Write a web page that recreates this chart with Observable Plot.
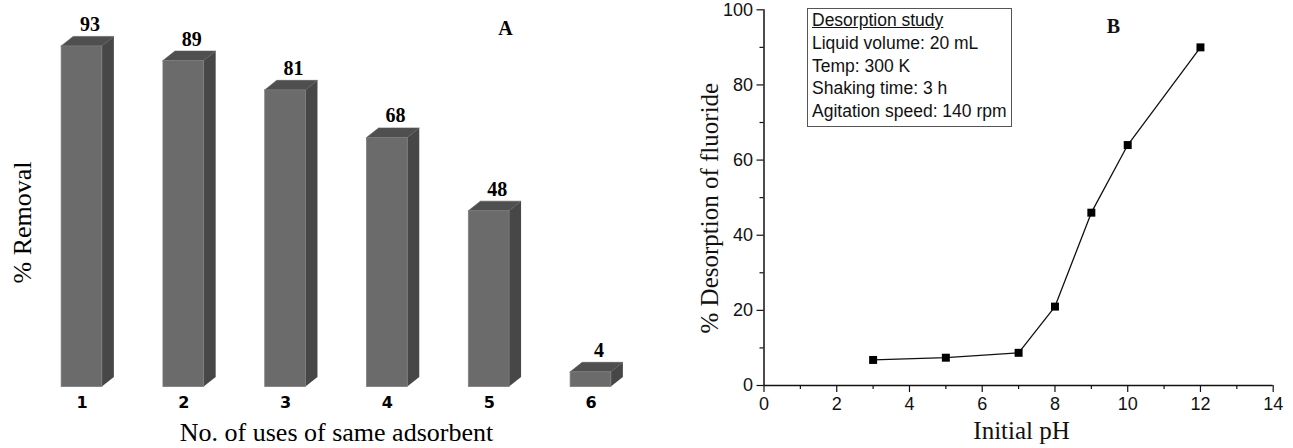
<!DOCTYPE html>
<html>
<head>
<meta charset="utf-8">
<script src="https://cdn.jsdelivr.net/npm/d3@7"></script>
<script src="https://cdn.jsdelivr.net/npm/@observablehq/plot@0.6"></script>
<style>
  html, body { margin: 0; padding: 0; background: #fff; }
  #wrap { position: relative; width: 1293px; height: 448px; overflow: hidden; }
  #panelA { position: absolute; left: 0; top: 0; }
  #panelB { position: absolute; left: 660px; top: 0; }
  #legend {
    position: absolute; left: 807px; top: 8px; width: 199px;
    border: 1px solid #555; padding: 0 0 3px 4px; background: #fff;
    font-family: "Liberation Sans", Arial, sans-serif; font-size: 17.5px; line-height: 22.75px; color: #111;
  }
  #legend div:first-child { text-decoration: underline; }
</style>
</head>
<body>
<div id="wrap">
  <div id="panelA"></div>
  <div id="panelB"></div>
  <div id="legend"></div>
</div>
<script>
// ---- Panel A data ----
const uses = [1, 2, 3, 4, 5, 6];
const removal = [93, 89, 81, 68, 48, 4];
const panelALabel = "A";
const xTitleA = "No. of uses of same adsorbent";
const yTitleA = "% Removal";

// ---- Panel B data ----
const pH = [3, 5, 7, 8, 9, 10, 12];
const desorption = [6.8, 7.4, 8.7, 21, 46, 64, 90];
const xTicksB = [0, 2, 4, 6, 8, 10, 12, 14];
const xMinorB = [1, 3, 5, 7, 9, 11, 13];
const yTicksB = [0, 20, 40, 60, 80, 100];
const yMinorB = [10, 30, 50, 70, 90];
const panelBLabel = "B";
const xTitleB = "Initial pH";
const yTitleB = "% Desorption of fluoride";
const legendLines = ["Desorption study", "Liquid volume: 20 mL", "Temp: 300 K", "Shaking time: 3 h", "Agitation speed: 140 rpm"];

const serif = "'Liberation Serif', 'Times New Roman', serif";
const sans = "'Liberation Sans', Arial, sans-serif";

// ---- Panel A: pseudo-3D bars ----
const hw = 0.2;        // half width of front face (x units)
const depX = 0.118;    // depth offset (x units)
const depY = 2.6;      // depth offset (y units)
const bars = uses.map((u, i) => ({use: u, value: removal[i]}));
const sideFaces = bars.flatMap(d => [
  {use: d.use, x: d.use + hw, y1: 0, y2: d.value},
  {use: d.use, x: d.use + hw + depX, y1: depY, y2: d.value + depY}
]);
const topFaces = bars.flatMap(d => [
  {use: d.use, y: d.value, x1: d.use - hw, x2: d.use + hw},
  {use: d.use, y: d.value + depY, x1: d.use - hw + depX, x2: d.use + hw + depX}
]);

const plotA = Plot.plot({
  width: 660, height: 448,
  marginLeft: 30.6, marginRight: 18.6, marginTop: 20.3, marginBottom: 61.5,
  style: {fontFamily: serif, background: "transparent"},
  x: {domain: [0.5, 6.5]},
  y: {domain: [0, 100], axis: null},
  marks: [
    Plot.areaY(sideFaces, {x: "x", y1: "y1", y2: "y2", z: "use", fill: "#474747"}),
    Plot.areaX(topFaces, {y: "y", x1: "x1", x2: "x2", z: "use", fill: "#4f4f4f", stroke: "#5a5a5a", strokeWidth: 0.6}),
    Plot.rect(bars, {x1: d => d.use - hw, x2: d => d.use + hw, y1: 0, y2: "value", fill: "#6b6b6b", stroke: "#7c7c7c", strokeWidth: 0.8}),
    Plot.text(bars, {x: d => d.use + depX / 2, y: d => d.value + depY, text: d => String(d.value), lineAnchor: "bottom", dy: -6, dx: 2, fontSize: 20, fontWeight: "bold", fontFamily: serif}),
    Plot.axisX({ticks: uses, tickSize: 0, tickPadding: 10, tickFormat: d => String(d), label: null, fontSize: 16, fontWeight: "bold", fontFamily: "'DejaVu Sans', Verdana, sans-serif"}),
    Plot.text([xTitleA], {frameAnchor: "bottom", textAnchor: "middle", lineAnchor: "bottom", dy: 53.5, fontSize: 26, fontFamily: serif}),
    Plot.text([yTitleA], {frameAnchor: "left", textAnchor: "middle", rotate: -90, dx: -8.6, dy: 18.6, fontSize: 26, fontFamily: serif}),
    Plot.text([panelALabel], {frameAnchor: "top-left", textAnchor: "middle", lineAnchor: "middle", dx: 505 - 30.6, dy: 28 - 20.3, fontSize: 20, fontWeight: "bold", fontFamily: serif})
  ]
});
document.getElementById("panelA").appendChild(plotA);

// ---- Panel B: line chart ----
const pts = pH.map((p, i) => ({pH: p, d: desorption[i]}));
const plotB = Plot.plot({
  width: 633, height: 448,
  marginLeft: 103.5, marginRight: 20.3, marginTop: 9.3, marginBottom: 63,
  style: {fontFamily: sans, background: "transparent", color: "#111"},
  x: {domain: [0, 14]},
  y: {domain: [0, 100]},
  marks: [
    Plot.axisX({ticks: xTicksB, tickSize: 7, tickPadding: 5, label: null, fontSize: 18, fontFamily: sans, strokeWidth: 1.2}),
    Plot.axisX({ticks: xMinorB, tickSize: 4, tickFormat: () => "", label: null, strokeWidth: 1.2}),
    Plot.axisY({ticks: yTicksB, tickSize: 7, tickPadding: 4, label: null, fontSize: 18, fontFamily: sans, strokeWidth: 1.2}),
    Plot.axisY({ticks: yMinorB, tickSize: 4, tickFormat: () => "", label: null, strokeWidth: 1.2}),
    Plot.ruleX([0], {stroke: "#111", strokeWidth: 1.5}),
    Plot.ruleY([0], {stroke: "#111", strokeWidth: 1.5}),
    Plot.line(pts, {x: "pH", y: "d", stroke: "#111", strokeWidth: 1.3}),
    Plot.dot(pts, {x: "pH", y: "d", symbol: "square", r: 4.5, fill: "#000", stroke: "none"}),
    Plot.text([xTitleB], {frameAnchor: "bottom", textAnchor: "middle", lineAnchor: "bottom", dx: 3, dy: 53, fontSize: 25, fontFamily: serif}),
    Plot.text([yTitleB], {frameAnchor: "left", textAnchor: "middle", rotate: -90, dx: -54.5, dy: 10.5, fontSize: 25, fontFamily: serif}),
    Plot.text([panelBLabel], {frameAnchor: "top-left", textAnchor: "middle", lineAnchor: "middle", dx: 1113 - 660 - 103.5, dy: 26 - 9.3, fontSize: 20, fontWeight: "bold", fontFamily: serif})
  ]
});
document.getElementById("panelB").appendChild(plotB);

// ---- Legend box (annotation) ----
const leg = document.getElementById("legend");
legendLines.forEach(t => { const div = document.createElement("div"); div.textContent = t; leg.appendChild(div); });
</script>
</body>
</html>
